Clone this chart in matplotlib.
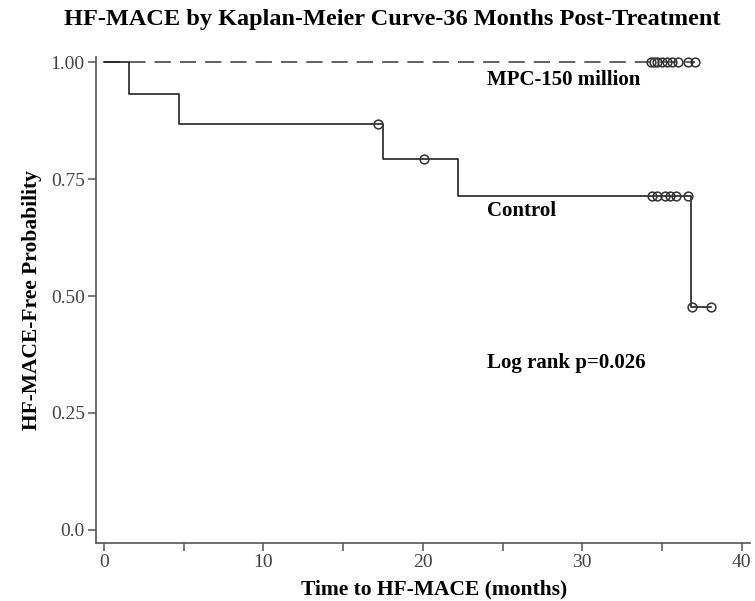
import numpy as np
import matplotlib.pyplot as plt

plt.rcParams['font.family'] = ['Liberation Serif', 'DejaVu Serif']

# Control arm: step times and survival after each step
ctrl_times = [0, 1.6, 4.7, 17.5, 22.2, 36.8, 38.1]
ctrl_surv = [1.0, 0.933, 0.867, 0.794, 0.715, 0.477, 0.477]
ctrl_cens_t = [17.2, 20.1, 34.4, 34.7, 35.2, 35.5, 35.9, 36.6, 36.9, 38.1]
ctrl_cens_s = [0.867, 0.794, 0.715, 0.715, 0.715, 0.715, 0.715, 0.715, 0.477, 0.477]

# MPC-150 million arm: no events
mpc_times = [0, 37.1]
mpc_surv = [1.0, 1.0]
mpc_cens_t = [34.3, 34.5, 34.7, 35.0, 35.3, 35.6, 36.0, 36.6, 37.1]
mpc_cens_s = [1.0] * len(mpc_cens_t)

yticks = [0, 0.25, 0.5, 0.75, 1.0]
ytick_labels = ['0.0', '0.25', '0.50', '0.75', '1.00']

fig = plt.figure(figsize=(7.55, 6.01), dpi=100)
ax = fig.add_axes([0.127, 0.0965, 0.866, 0.8085])

ax.step(mpc_times, mpc_surv, where='post', color='#555555', lw=1.3,
        dashes=(9, 5))
ax.plot(mpc_cens_t, mpc_cens_s, ls='none', marker='o', ms=6.3,
        mfc='none', mec='#333333', mew=1.1)

ax.step(ctrl_times, ctrl_surv, where='post', color='#222222', lw=1.2)
ax.plot(ctrl_cens_t, ctrl_cens_s, ls='none', marker='o', ms=6.3,
        mfc='none', mec='#333333', mew=1.1)

ax.text(24.0, 0.962, 'MPC-150 million', fontsize=15, fontweight='bold',
        va='center', ha='left')
ax.text(24.0, 0.682, 'Control', fontsize=15, fontweight='bold',
        va='center', ha='left')
ax.text(24.0, 0.357, 'Log rank p=0.026', fontsize=15, fontweight='bold',
        va='center', ha='left')

ax.set_xlim(-0.5, 40.5)
ax.set_ylim(-0.028, 1.011)
ax.set_xticks([0, 10, 20, 30, 40])
ax.set_xticks([5, 15, 25, 35], minor=True)
ax.set_yticks(yticks)
ax.set_yticklabels(ytick_labels)

for s in ['top', 'right']:
    ax.spines[s].set_visible(False)
for s in ['left', 'bottom']:
    ax.spines[s].set_color('#555555')
    ax.spines[s].set_linewidth(1.2)

ax.tick_params(which='both', direction='out', length=6, width=1.1,
               color='#555555', labelcolor='#444444', labelsize=14, pad=2)

ax.set_xlabel('Time to HF-MACE (months)', fontsize=15.5, fontweight='bold')
ax.xaxis.set_label_coords(0.517, -0.075)
ax.set_ylabel('HF-MACE-Free Probability', fontsize=15.5, fontweight='bold',
              labelpad=6)
fig.text(0.519, 0.968, 'HF-MACE by Kaplan-Meier Curve-36 Months Post-Treatment',
         ha='center', va='center', fontsize=17.5, fontweight='bold')

fig.savefig('out.png', dpi=100)
